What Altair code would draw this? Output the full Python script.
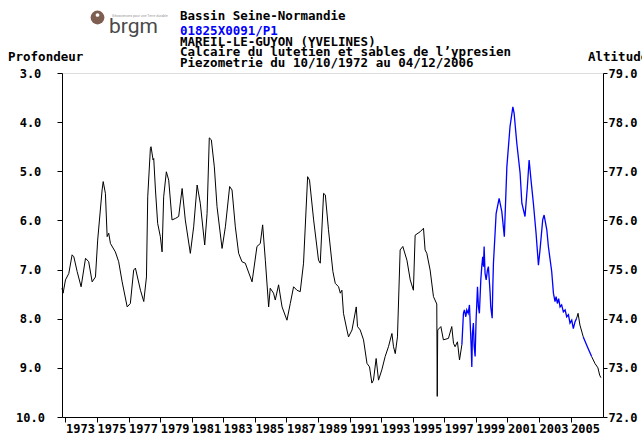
import altair as alt
import pandas as pd

FONT = "DejaVu Sans Mono"

# Manual depth readings (m below ground), Oct 1972 -> early 1998
manual_year = [
    1972.78, 1972.85, 1973.00, 1973.21, 1973.42, 1973.53, 1973.74, 1973.99, 1974.27, 1974.47,
    1974.69, 1974.90, 1975.04, 1975.32, 1975.39, 1975.53, 1975.64, 1975.74, 1975.85, 1976.16,
    1976.37, 1976.59, 1976.91, 1977.11, 1977.32, 1977.43, 1977.75, 1977.96, 1978.13, 1978.21,
    1978.38, 1978.42, 1978.55, 1978.59, 1978.70, 1978.84, 1979.01, 1979.12, 1979.22, 1979.39,
    1979.54, 1979.75, 1979.96, 1980.17, 1980.39, 1980.59, 1980.91, 1981.12, 1981.34, 1981.54,
    1981.82, 1981.97, 1982.11, 1982.24, 1982.43, 1982.60, 1982.92, 1983.13, 1983.40, 1983.55,
    1983.76, 1983.97, 1984.18, 1984.39, 1984.82, 1985.13, 1985.34, 1985.49, 1985.66, 1985.87,
    1985.97, 1986.18, 1986.29, 1986.50, 1986.72, 1987.03, 1987.24, 1987.45, 1987.66, 1987.87,
    1988.08, 1988.34, 1988.46, 1988.72, 1989.03, 1989.14, 1989.35, 1989.46, 1989.66, 1989.94,
    1990.09, 1990.30, 1990.41, 1990.51, 1990.61, 1990.83, 1990.93, 1991.15, 1991.42, 1991.50,
    1991.67, 1991.88, 1992.10, 1992.26, 1992.41, 1992.51, 1992.68, 1992.83, 1993.04, 1993.25,
    1993.46, 1993.68, 1993.78, 1993.89, 1994.03, 1994.20, 1994.37, 1994.63, 1994.84, 1995.04,
    1995.15, 1995.47, 1995.68, 1995.78, 1995.89, 1996.10, 1996.31, 1996.52, 1996.55, 1996.58,
    1996.78, 1996.94, 1997.26, 1997.47, 1997.58, 1997.68, 1997.83, 1997.96, 1998.11,
]
manual_depth = [
    7.38, 7.48, 7.21, 7.08, 6.70, 6.74, 7.04, 7.35, 6.77, 6.84,
    7.25, 7.15, 6.40, 5.38, 5.21, 5.45, 6.33, 6.26, 6.47, 6.64,
    6.84, 7.25, 7.76, 7.69, 7.01, 6.97, 7.42, 7.65, 7.15, 5.52,
    4.53, 4.50, 4.77, 4.74, 5.38, 6.06, 6.33, 6.64, 5.52, 5.01,
    5.18, 5.99, 5.96, 5.92, 5.35, 5.99, 6.67, 6.13, 5.28, 5.65,
    6.50, 5.86, 4.32, 4.36, 4.91, 5.72, 6.57, 6.13, 5.31, 5.38,
    6.13, 6.67, 6.84, 6.87, 7.25, 6.53, 6.47, 6.09, 6.81, 7.76,
    7.38, 7.48, 7.62, 7.31, 7.76, 8.03, 7.69, 7.35, 7.42, 7.45,
    6.87, 5.11, 5.18, 5.99, 6.81, 6.87, 5.45, 5.48, 6.19, 7.04,
    7.28, 7.35, 7.48, 7.42, 7.89, 8.23, 8.37, 8.23, 7.76, 8.16,
    8.23, 8.43, 8.91, 8.98, 9.31, 9.25, 8.81, 9.25, 9.04, 8.77,
    8.57, 8.30, 8.57, 8.71, 8.37, 6.60, 6.53, 6.81, 7.21, 7.42,
    6.30, 6.23, 6.16, 6.60, 6.67, 7.01, 7.55, 7.70, 9.58, 8.23,
    8.16, 8.43, 8.40, 8.16, 8.50, 8.57, 8.47, 8.84, 8.53,
]

# Recorder readings, 1998 -> 2005
recorder_year = [
    1998.11, 1998.21, 1998.27, 1998.36, 1998.42, 1998.51, 1998.59, 1998.63, 1998.70, 1998.74,
    1998.78, 1998.84, 1998.89, 1998.95, 1999.01,
    1999.10, 1999.16, 1999.22, 1999.31, 1999.37, 1999.43, 1999.48, 1999.52, 1999.58, 1999.65,
    1999.73, 1999.79, 1999.86, 1999.90, 1999.94, 2000.03, 2000.07, 2000.11, 2000.19, 2000.28,
    2000.47, 2000.64, 2000.80, 2000.96, 2001.16, 2001.34, 2001.42, 2001.59, 2001.80, 2001.91,
    2002.11, 2002.26, 2002.37, 2002.49, 2002.64, 2002.81, 2002.96, 2003.06, 2003.23, 2003.32,
    2003.49, 2003.59, 2003.80,
    2003.91, 2004.01, 2004.08, 2004.16, 2004.24, 2004.33, 2004.43, 2004.54, 2004.65, 2004.75,
    2004.86, 2004.96, 2005.07, 2005.17, 2005.28, 2005.38,
]
recorder_depth = [
    8.53, 7.89, 7.82, 7.96, 7.82, 7.89, 7.72, 8.03, 8.57, 8.98,
    8.30, 8.09, 8.57, 8.77, 8.03,
    7.35, 7.76, 7.89, 7.21, 6.94, 6.74, 6.94, 6.53, 7.08, 7.21,
    7.01, 6.94, 7.28, 7.48, 7.76, 7.99, 7.35, 6.87, 6.40, 5.86,
    5.55, 5.82, 6.33, 4.91, 4.09, 3.69, 3.82, 4.43, 5.04, 5.65,
    5.92, 5.31, 4.77, 5.18, 5.65, 6.26, 6.91, 6.60, 5.99, 5.89,
    6.19, 6.53, 7.04,
    7.48, 7.65, 7.55, 7.69, 7.59, 7.76, 7.72, 7.86, 7.82, 7.96,
    7.92, 8.09, 8.03, 8.20, 8.06, 7.99,
]

# Late 2005 -> Dec 2006: alternating manual / recorder stretches
manual2_year = [2005.38, 2005.47, 2005.59, 2005.80]
manual2_depth = [7.99, 7.89, 8.13, 8.37]
recorder2_year = [2005.80, 2006.10, 2006.33]
recorder2_depth = [8.37, 8.60, 8.77]
manual3_year = [2006.33, 2006.54, 2006.73, 2006.84, 2006.92]
manual3_depth = [8.77, 8.91, 9.00, 9.15, 9.20]

GROUND_ALTITUDE = 82.0
year_ticks = list(range(1973, 2006, 2))
depth_ticks = [3, 4, 5, 6, 7, 8, 9, 10]
altitude_ticks = [72, 73, 74, 75, 76, 77, 78, 79]

segments = [
    (manual_year, manual_depth, "manual"),
    (recorder_year, recorder_depth, "recorder"),
    (manual2_year, manual2_depth, "manual"),
    (recorder2_year, recorder2_depth, "recorder"),
    (manual3_year, manual3_depth, "manual"),
]
rows = []
for seg_id, (years, depths, kind) in enumerate(segments):
    for yr, dp in zip(years, depths):
        rows.append({"year": yr, "depth": dp, "kind": kind, "seg": seg_id})
df = pd.DataFrame(rows)

x_scale = alt.Scale(domain=[1972.78, 2007.05], nice=False, zero=False)

axis_style = dict(
    labelFont=FONT, labelFontSize=12, labelFontWeight="bold", labelColor="black",
    tickColor="black", domainColor="black", grid=False, title=None,
    labelOverlap=False, labelFlush=False, labelBound=False,
)
x_axis = alt.Axis(values=year_ticks, format="d", labelAlign="left",
                  labelPadding=1, tickSize=5, **axis_style)

series = alt.Chart(df).mark_line().encode(
    x=alt.X("year:Q", scale=x_scale, axis=x_axis),
    y=alt.Y("depth:Q", scale=alt.Scale(domain=[3, 10], reverse=True, nice=False, zero=False),
            axis=alt.Axis(values=depth_ticks, format=".1f", labelAlign="center",
                          labelPadding=27, tickSize=5, **axis_style)),
    color=alt.Color("kind:N", scale=alt.Scale(domain=["manual", "recorder"],
                                              range=["#000000", "#0000ff"]), legend=None),
    strokeWidth=alt.StrokeWidth("kind:N", scale=alt.Scale(domain=["manual", "recorder"],
                                                          range=[1.0, 1.3]), legend=None),
    detail="seg:N",
)

altitude = alt.Chart(df).transform_calculate(
    altitude=f"{GROUND_ALTITUDE} - datum.depth"
).mark_line(opacity=0).encode(
    x=alt.X("year:Q", scale=x_scale, axis=x_axis),
    y=alt.Y("altitude:Q", scale=alt.Scale(domain=[72, 79], nice=False, zero=False),
            axis=alt.Axis(orient="right", values=altitude_ticks, format=".1f",
                          labelAlign="left", labelPadding=1, tickSize=4, **axis_style)),
)


def label(text, x, y, color="black", size=12.5, font=FONT, weight="bold", align="left"):
    return alt.Chart(pd.DataFrame({"t": [text]})).mark_text(
        align=align, baseline="alphabetic", font=font, fontSize=size,
        fontWeight=weight, color=color,
    ).encode(x=alt.value(x), y=alt.value(y), text="t:N")


header = [
    label("Bassin Seine-Normandie", 118, -53),
    label("01825X0091/P1", 118, -38.5, color="#0000ff"),
    label("MAREIL-LE-GUYON (YVELINES)", 118, -27.5),
    label("Calcaire du lutetien et sables de l’ypresien", 118, -17),
    label("Piezometrie du 10/10/1972 au 04/12/2006", 118, -6.5),
    label("Profondeur", -54, -12),
    label("Altitude", 526, -12),
]

logo_disc = alt.Chart(pd.DataFrame({"k": [0]})).mark_point(
    shape="circle", filled=True, size=190, color="#7d5e50", opacity=1
).encode(x=alt.value(35.5), y=alt.value(-55.5))
logo_eye = alt.Chart(pd.DataFrame({"k": [0]})).mark_point(
    shape="circle", filled=True, size=14, color="#ffffff", opacity=1
).encode(x=alt.value(35.5), y=alt.value(-58))
logo = [
    logo_disc,
    logo_eye,
    label("brgm", 47, -40, color="#4a4a4a", size=21, font="Roboto", weight="normal"),
    label("Géosciences pour une Terre durable", 50, -56, color="#9a9a9a", size=3.5,
          font="Roboto", weight="normal"),
]

chart = alt.layer(series, altitude, *header, *logo).resolve_scale(
    y="independent"
).properties(
    width=541, height=344,
    autosize=alt.AutoSizeParams(type="none"),
    padding={"left": 62, "top": 73, "right": 39, "bottom": 17},
).configure_view(stroke="black", strokeWidth=1).configure(background="white")

chart.save("out.html", embed_options={"renderer": "svg", "actions": False})
